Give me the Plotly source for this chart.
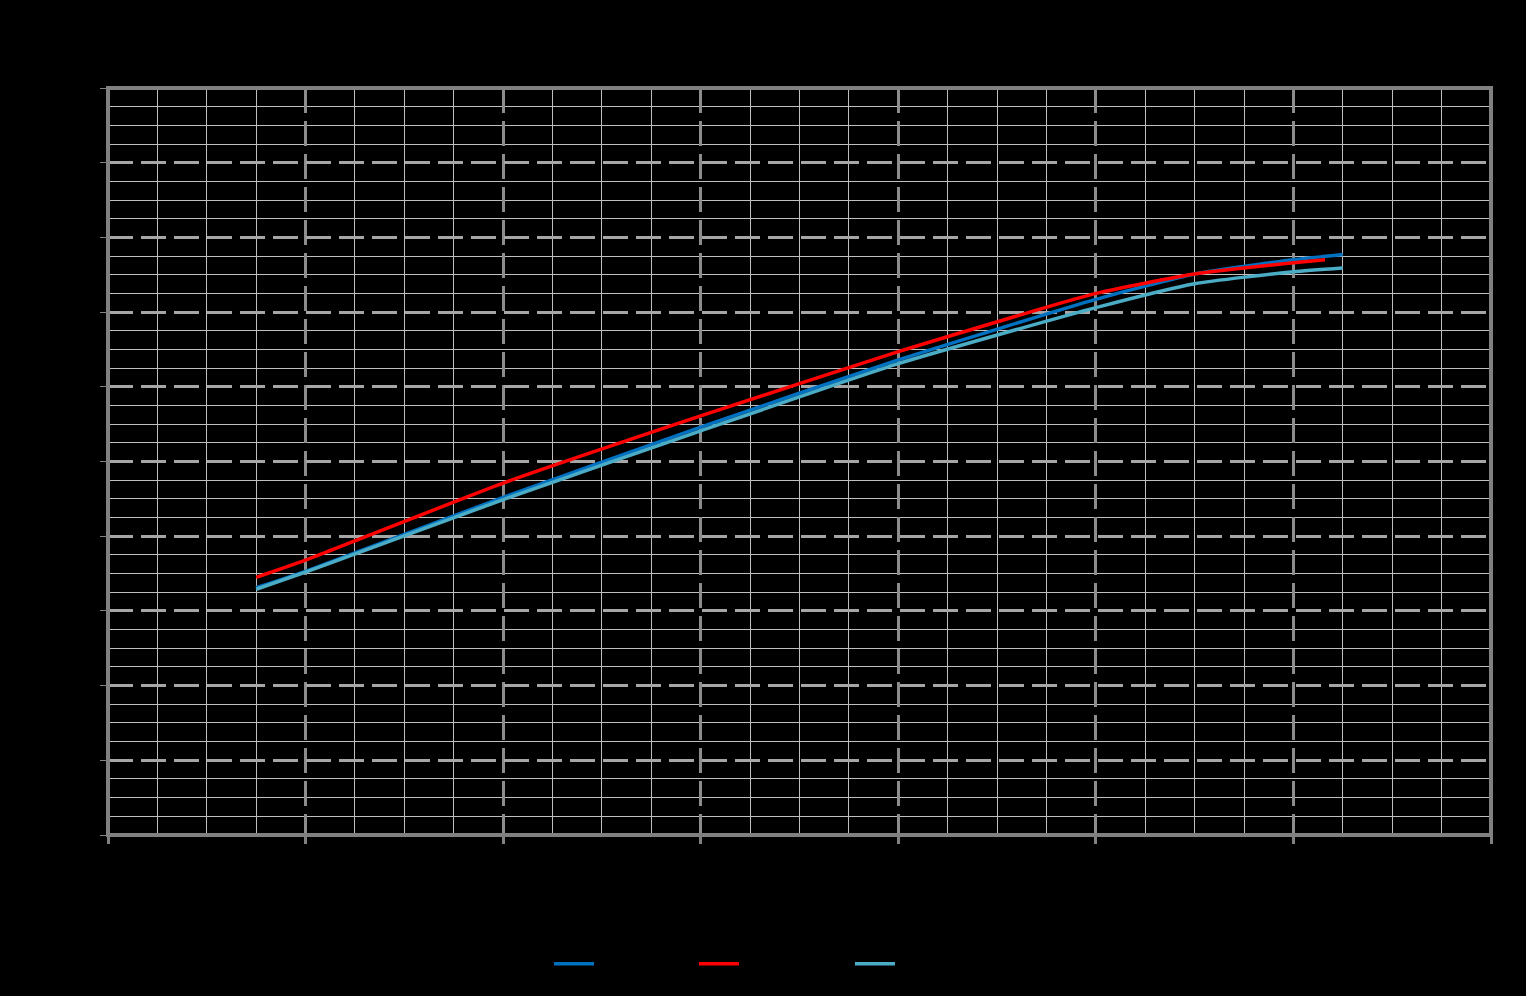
import plotly.graph_objects as go

# Data (x in major-grid units, y in major-grid units)
x_blue = [0.75, 1.0, 2.0, 3.0, 4.0, 5.0, 5.5, 6.0, 6.25]
y_blue = [3.31, 3.53, 4.52, 5.46, 6.36, 7.17, 7.51, 7.70, 7.77]

x_red = [0.75, 1.0, 2.0, 3.0, 4.0, 5.0, 5.5, 6.0, 6.16]
y_red = [3.45, 3.68, 4.71, 5.61, 6.47, 7.25, 7.51, 7.66, 7.70]

x_lblue = [0.75, 1.0, 2.0, 3.0, 4.0, 5.0, 5.5, 6.0, 6.25]
y_lblue = [3.29, 3.52, 4.49, 5.41, 6.31, 7.06, 7.38, 7.54, 7.59]

series_names = ["Series 1", "Series 2", "Series 3"]
series_colors = ["#0070C0", "#FF0000", "#4BACC6"]
legend_ids = ["legend", "legend2", "legend3"]
legend_x = [0.3189, 0.4237, 0.5365]

fig = go.Figure()
for name, xs, ys, col, lg in zip(series_names, [x_blue, x_red, x_lblue],
                                  [y_blue, y_red, y_lblue], series_colors, legend_ids):
    fig.add_trace(go.Scatter(
        x=xs, y=ys, name=name, mode="lines", legend=lg,
        line=dict(color=col, width=3.5, shape="spline", smoothing=0.5),
    ))

axis_common = dict(
    showline=False,
    ticks="outside", tickcolor="#808080",
    zeroline=False,
    tickfont=dict(color="#000000", size=12),
)

fig.update_xaxes(
    range=[0, 7], dtick=1, tick0=0,
    showgrid=True, gridcolor="#8C8C8C", gridwidth=3, griddash="25px,8px",
    minor=dict(dtick=0.25, showgrid=True, gridcolor="#BFBFBF", gridwidth=1, griddash="solid"),
    ticklen=8, tickwidth=3,
    **axis_common,
)
fig.update_yaxes(
    range=[0, 10], dtick=1, tick0=0,
    showgrid=True, gridcolor="#A6A6A6", gridwidth=3, griddash="25px,8px",
    minor=dict(dtick=0.25, showgrid=True, gridcolor="#BFBFBF", gridwidth=1, griddash="solid"),
    ticklen=7, tickwidth=1,
    **axis_common,
)

# plot-area frame, centred on the plot edges
fig.add_shape(type="rect", xref="paper", yref="paper", x0=0, x1=1, y0=0, y1=1,
              line=dict(color="#808080", width=4), layer="above")

legend_style = dict(
    orientation="h", xanchor="left", y=-0.1523, yanchor="top",
    bgcolor="rgba(0,0,0,0)", font=dict(color="#000000", size=13),
    itemwidth=40,
)

fig.update_layout(
    width=1526, height=996,
    paper_bgcolor="#000000", plot_bgcolor="#000000",
    margin=dict(l=108, r=35, t=88, b=161),
    font=dict(family="Liberation Sans, Arial", color="#000000"),
    showlegend=True,
    legend=dict(x=legend_x[0], **legend_style),
    legend2=dict(x=legend_x[1], **legend_style),
    legend3=dict(x=legend_x[2], **legend_style),
)

fig.write_html(
    "out.html",
    config={"displayModeBar": False},
    post_script="document.body.style.margin='0';document.body.style.background='#000';",
)
